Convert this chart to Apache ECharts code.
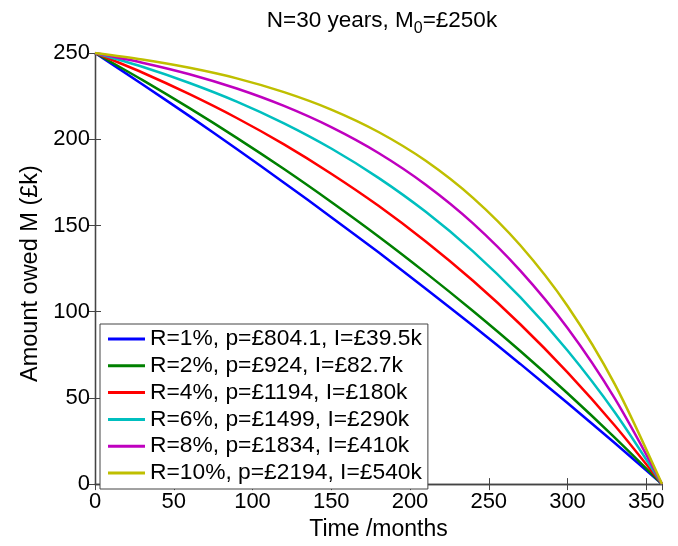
<!DOCTYPE html>
<html>
<head>
<meta charset="utf-8">
<script src="https://cdn.jsdelivr.net/npm/echarts@6/dist/echarts.min.js"></script>
<style>
html,body{margin:0;padding:0;background:#fff;}
#chart{width:678px;height:546px;}
</style>
</head>
<body>
<div id="chart"></div>
<script>
// months
const months = [0, 30, 60, 90, 120, 150, 180, 210, 240, 270, 300, 330, 360];
// amount owed (£k)
const r1  = [250, 231.9, 213.4, 194.3, 174.8, 154.8, 134.4, 113.3, 91.8, 69.7, 47.0, 23.8, 0];
const r2  = [250, 234.4, 218.0, 200.8, 182.7, 163.6, 143.6, 122.5, 100.4, 77.2, 52.7, 27.0, 0];
const r4  = [250, 238.7, 226.1, 212.3, 197.0, 180.0, 161.4, 140.7, 117.9, 92.7, 64.8, 34.0, 0];
const r6  = [250, 242.0, 232.6, 221.8, 209.2, 194.6, 177.6, 157.9, 135.0, 108.4, 77.5, 41.7, 0];
const r8  = [250, 244.4, 237.7, 229.4, 219.3, 207.0, 192.0, 173.6, 151.2, 123.8, 90.5, 49.7, 0];
const r10 = [250, 246.2, 241.4, 235.3, 227.3, 217.2, 204.2, 187.5, 166.0, 138.5, 103.3, 58.0, 0];
const seriesNames = [
  'R=1%, p=£804.1, I=£39.5k',
  'R=2%, p=£924, I=£82.7k',
  'R=4%, p=£1194, I=£180k',
  'R=6%, p=£1499, I=£290k',
  'R=8%, p=£1834, I=£410k',
  'R=10%, p=£2194, I=£540k'
];
const seriesData = [r1, r2, r4, r6, r8, r10];
const colors = ['#0000ff', '#008000', '#ff0000', '#00bfbf', '#bf00bf', '#bfbf00'];
const xTicks = [0, 50, 100, 150, 200, 250, 300, 350];
const yTicks = [0, 50, 100, 150, 200, 250];

const FONT = '"Liberation Sans", Arial, sans-serif';
const FS = 22;
const chart = echarts.init(document.getElementById('chart'), null, {renderer: 'canvas'});

const axisLine = {show: true, lineStyle: {color: '#444', width: 1.3}};
const axisTick = {show: true, inside: true, length: 6, lineStyle: {color: '#444', width: 1}};

chart.setOption({
  animation: false,
  backgroundColor: '#fff',
  title: {
    text: 'N=30 years, M{sub|0}=£250k',
    left: 377, top: 0, textAlign: 'center',
    textStyle: {
      fontFamily: FONT, fontSize: 22.5, fontWeight: 'normal', color: '#000',
      rich: {
        sub: {fontFamily: FONT, fontSize: 16, color: '#000', padding: [16, 0, 0, 0]}
      }
    }
  },
  color: colors,
  grid: {left: 95, right: 16, top: 53, bottom: 53, containLabel: false},
  legend: {
    orient: 'vertical', left: 100, top: 324,
    padding: [3, 6, 4, 8],
    itemGap: 2.8,
    itemWidth: 37, itemHeight: 3,
    icon: 'rect',
    borderColor: '#444', borderWidth: 1,
    backgroundColor: '#fff',
    textStyle: {fontFamily: FONT, fontSize: 22.8, color: '#000', lineHeight: 24},
    data: seriesNames
  },
  xAxis: [{
    type: 'value', min: 0, max: 360, interval: 50,
    name: 'Time /months', nameLocation: 'middle', nameGap: 24,
    nameTextStyle: {fontFamily: FONT, fontSize: 23, color: '#000'},
    axisLine: axisLine, axisTick: axisTick,
    axisLabel: {fontFamily: FONT, fontSize: FS, color: '#000', margin: 7, showMaxLabel: false,
      formatter: v => xTicks.indexOf(v) >= 0 ? String(v) : ''},
    splitLine: {show: false}
  }, {
    type: 'value', min: 0, max: 360, interval: 50, position: 'top',
    axisLine: axisLine, axisTick: axisTick, axisLabel: {show: false}, splitLine: {show: false}
  }],
  yAxis: [{
    type: 'value', min: 0, max: 250, interval: 50,
    name: 'Amount owed M (£k)', nameLocation: 'middle', nameGap: 47,
    nameTextStyle: {fontFamily: FONT, fontSize: 23.5, color: '#000', padding: [0, 10, 0, 0]},
    axisLine: axisLine, axisTick: axisTick,
    axisLabel: {fontFamily: FONT, fontSize: FS, color: '#000', margin: 5,
      formatter: v => yTicks.indexOf(v) >= 0 ? String(v) : ''},
    splitLine: {show: false}
  }, {
    type: 'value', min: 0, max: 250, interval: 50, position: 'right',
    axisLine: axisLine, axisTick: axisTick, axisLabel: {show: false}, splitLine: {show: false}
  }],
  series: seriesData.map((d, i) => ({
    name: seriesNames[i],
    type: 'line',
    data: months.map((m, j) => [m, d[j]]),
    showSymbol: false, symbol: 'none',
    smooth: 0.3,
    lineStyle: {width: 2.5, color: colors[i]},
    itemStyle: {color: colors[i]},
    z: 2 + i
  }))
});
</script>
</body>
</html>
